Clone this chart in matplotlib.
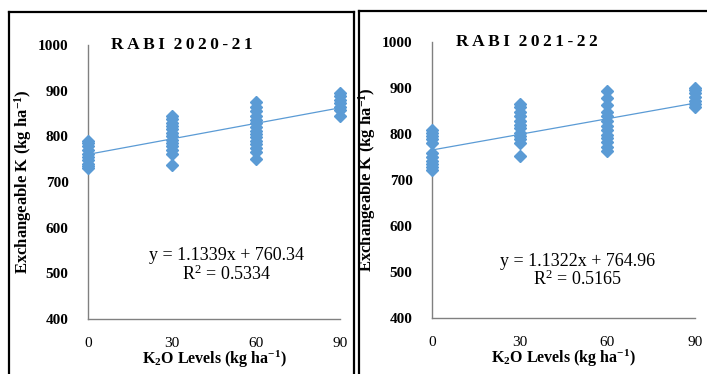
import matplotlib
matplotlib.use('agg')
from matplotlib import pyplot as plt
from matplotlib.lines import Line2D
import numpy as np

# K2O levels (kg/ha) and exchangeable K readings
levels = [0, 30, 60, 90]

k_2020_0 = [730, 735, 740, 748, 755, 762, 770, 778, 785, 790]
k_2020_30 = [738, 762, 770, 778, 785, 792, 800, 808, 815, 822, 830, 838, 845]
k_2020_60 = [750, 765, 775, 782, 790, 798, 805, 812, 820, 828, 835, 845, 855, 865, 875]
k_2020_90 = [845, 858, 865, 872, 880, 888, 895]

k_2021_0 = [722, 728, 735, 742, 750, 758, 780, 788, 795, 802, 808]
k_2021_30 = [753, 780, 788, 795, 803, 812, 820, 828, 838, 848, 858, 865]
k_2021_60 = [762, 772, 782, 790, 798, 808, 818, 828, 838, 848, 862, 878, 893]
k_2021_90 = [858, 865, 872, 880, 888, 895, 900]

# trendline coefficients (slope, intercept, r2)
fit_2020 = (1.1339, 760.34, 0.5334)
fit_2021 = (1.1322, 764.96, 0.5165)

yticks = [400, 500, 600, 700, 800, 900, 1000]
blue = '#5B9BD5'
serif = ['Liberation Serif', 'DejaVu Serif']
plt.rcParams['mathtext.default'] = 'regular'

fig = plt.figure(figsize=(7.07, 3.74), dpi=100)


def panel(rect, groups, fit, title, eq_xy):
    ax = fig.add_axes(rect)
    for lv, vals in zip(levels, groups):
        ax.plot([lv] * len(vals), vals, linestyle='none', marker='D',
                markersize=6.5, color=blue, clip_on=False, zorder=3)
    xs = np.array([levels[0], levels[-1]])
    ax.plot(xs, fit[0] * xs + fit[1], color=blue, lw=0.9, zorder=2)

    ax.set_xlim(0, 90)
    ax.set_ylim(400, 1000)
    ax.set_xticks(levels)
    ax.set_yticks(yticks)
    ax.set_xticklabels([str(v) for v in levels], family=serif, fontsize=11)
    ax.set_yticklabels([str(v) for v in yticks], family=serif, fontsize=11,
                       fontweight='bold')
    ax.tick_params(axis='both', length=0)
    ax.tick_params(axis='x', pad=13)
    ax.tick_params(axis='y', pad=14)
    for s in ['top', 'right']:
        ax.spines[s].set_visible(False)
    for s in ['left', 'bottom']:
        ax.spines[s].set_color('#808080')
        ax.spines[s].set_linewidth(1.0)

    ax.set_xlabel('K$_2$O Levels (kg ha$^{-1}$)', family=serif, fontsize=11.5,
                  fontweight='bold', labelpad=-1)
    ax.set_ylabel('Exchangeable K (kg ha$^{-1}$)', family=serif, fontsize=12,
                  fontweight='bold', labelpad=3)
    ax.text(0.09, 1.0, title, transform=ax.transAxes, family=serif,
            fontsize=12.5, fontweight='bold', va='center', ha='left')
    ax.text(eq_xy[0], eq_xy[1],
            'y = %.4fx + %.2f\nR$^2$ = %.4f' % fit,
            transform=ax.transAxes, family=serif, fontsize=13,
            ha='center', va='center', linespacing=1.0)
    return ax


panel([0.1245, 0.147, 0.357, 0.733],
      [k_2020_0, k_2020_30, k_2020_60, k_2020_90], fit_2020,
      'R\u2009A\u2009B\u2009I  2\u20090\u20092\u20090\u2009-\u20092\u20091', (0.55, 0.195))
panel([0.611, 0.150, 0.372, 0.738],
      [k_2021_0, k_2021_30, k_2021_60, k_2021_90], fit_2021,
      'R\u2009A\u2009B\u2009I  2\u20090\u20092\u20091\u2009-\u20092\u20092', (0.555, 0.17))

# frames around each panel
W, H = 707.0, 374.0
def frame(x0, y0, x1, y1):
    for xs, ys in [((x0, x1), (y0, y0)), ((x0, x0), (y0, y1)), ((x1, x1), (y0, y1))]:
        fig.add_artist(Line2D([v / W for v in xs], [1 - v / H for v in ys],
                              color='black', lw=1.6))

frame(9, 12, 354, 380)
frame(359, 11, 712, 380)

plt.savefig('out.png', dpi=100)
